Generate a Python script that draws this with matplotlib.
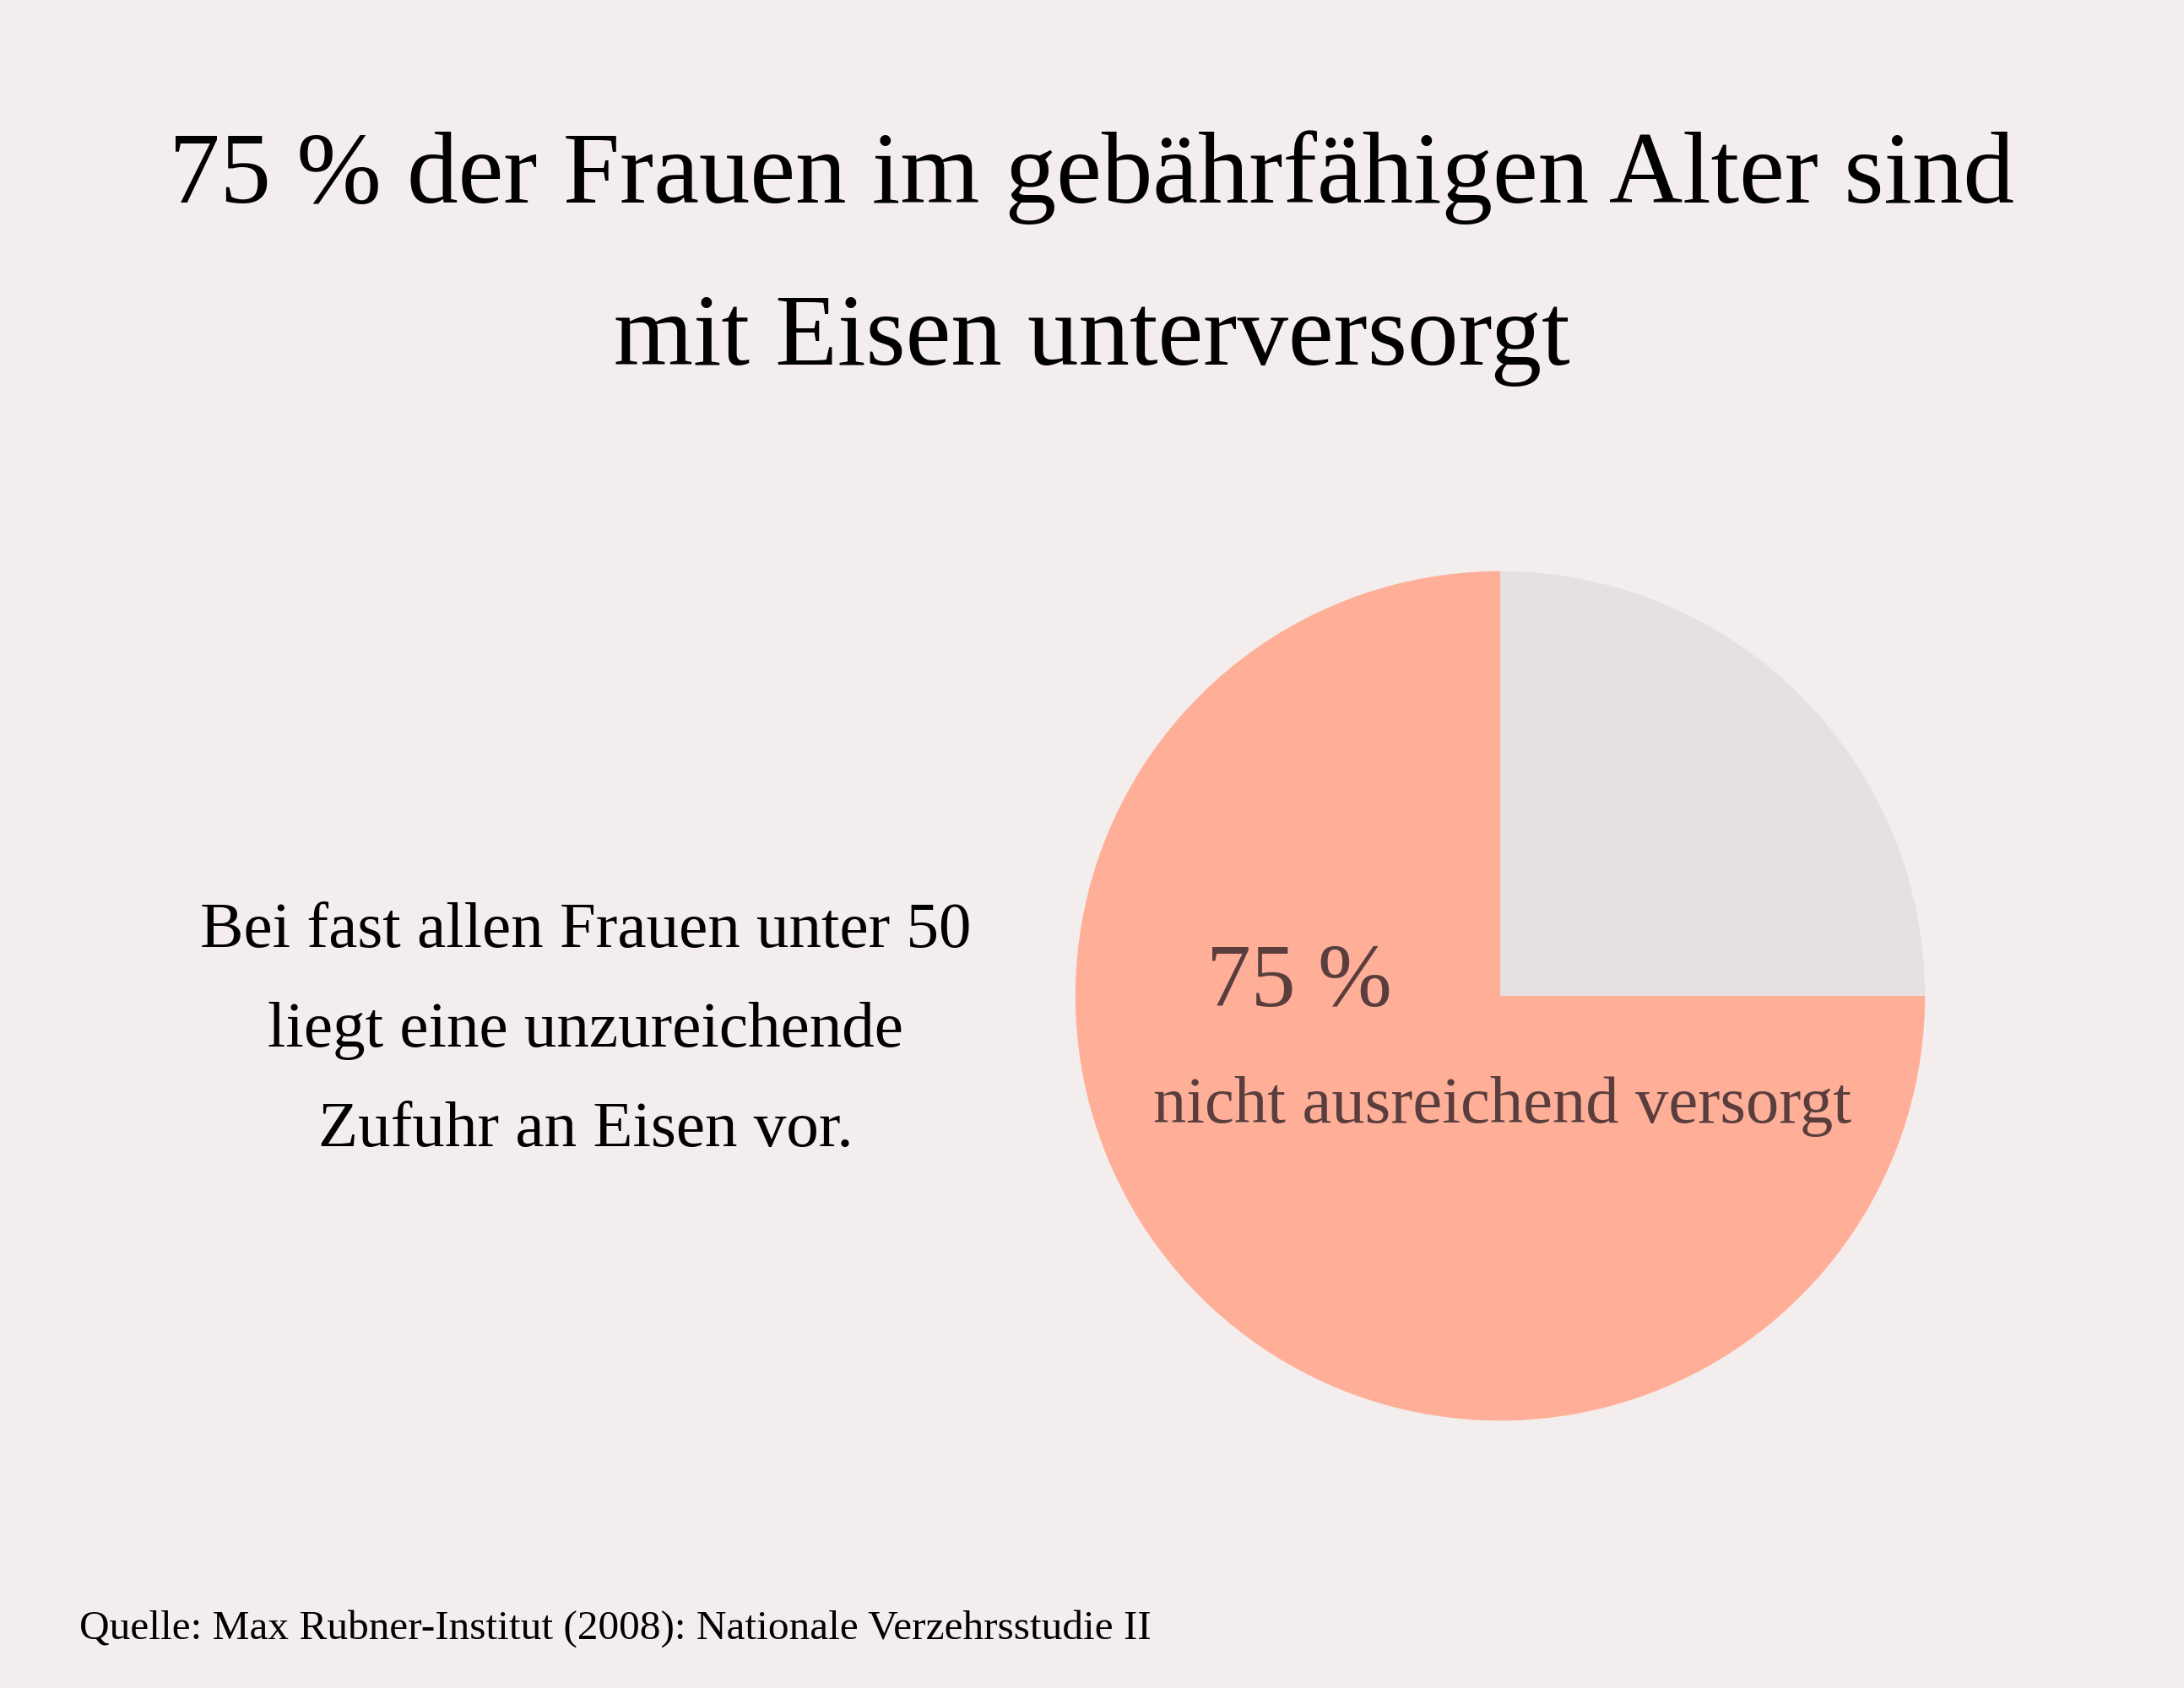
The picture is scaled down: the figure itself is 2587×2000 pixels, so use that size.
import matplotlib.pyplot as plt

# data
shares = [25, 75]
share_labels = ["ausreichend versorgt", "nicht ausreichend versorgt"]
share_colors = ["#E6E0E0", "#FFAF98"]

title_lines = ["75 % der Frauen im gebährfähigen Alter sind", "mit Eisen unterversorgt"]
side_lines = ["Bei fast allen Frauen unter 50", "liegt eine unzureichende", "Zufuhr an Eisen vor."]
highlight_value = "75 %"
highlight_label = "nicht ausreichend versorgt"
source = "Quelle: Max Rubner-Institut (2008): Nationale Verzehrsstudie II"

bg = "#F3EDED"
dark = "#5A3E3E"
font = ["Liberation Serif", "DejaVu Serif"]

fig = plt.figure(figsize=(25.87, 20), dpi=100, facecolor=bg)

# title
fig.text(0.5, 0.880, title_lines[0], ha="center", va="baseline", fontsize=87, family=font, color="black")
fig.text(0.5, 0.784, title_lines[1], ha="center", va="baseline", fontsize=87, family=font, color="black")

# side text
for y, line in zip([0.439, 0.380, 0.321], side_lines):
    fig.text(0.268, y, line, ha="center", va="baseline", fontsize=55.5, family=font, color="black")

# pie
ax = fig.add_axes([0.6869 - 0.1945, 0.410 - 0.2517, 0.389, 0.5034])
ax.set_facecolor(bg)
ax.pie(shares, colors=share_colors, startangle=90, counterclock=False, radius=1,
       wedgeprops=dict(linewidth=0))
ax.set_xlim(-1, 1)
ax.set_ylim(-1, 1)
ax.set_aspect("equal")
ax.axis("off")

fig.text(0.595, 0.404, highlight_value, ha="center", va="baseline", fontsize=76, family=font, color=dark)
fig.text(0.688, 0.335, highlight_label, ha="center", va="baseline", fontsize=56.5, family=font, color=dark)

# source
fig.text(0.0364, 0.029, source, ha="left", va="baseline", fontsize=35.6, family=font, color="black")

fig.savefig("out.png", dpi=100, facecolor=bg)
plt.close(fig)
